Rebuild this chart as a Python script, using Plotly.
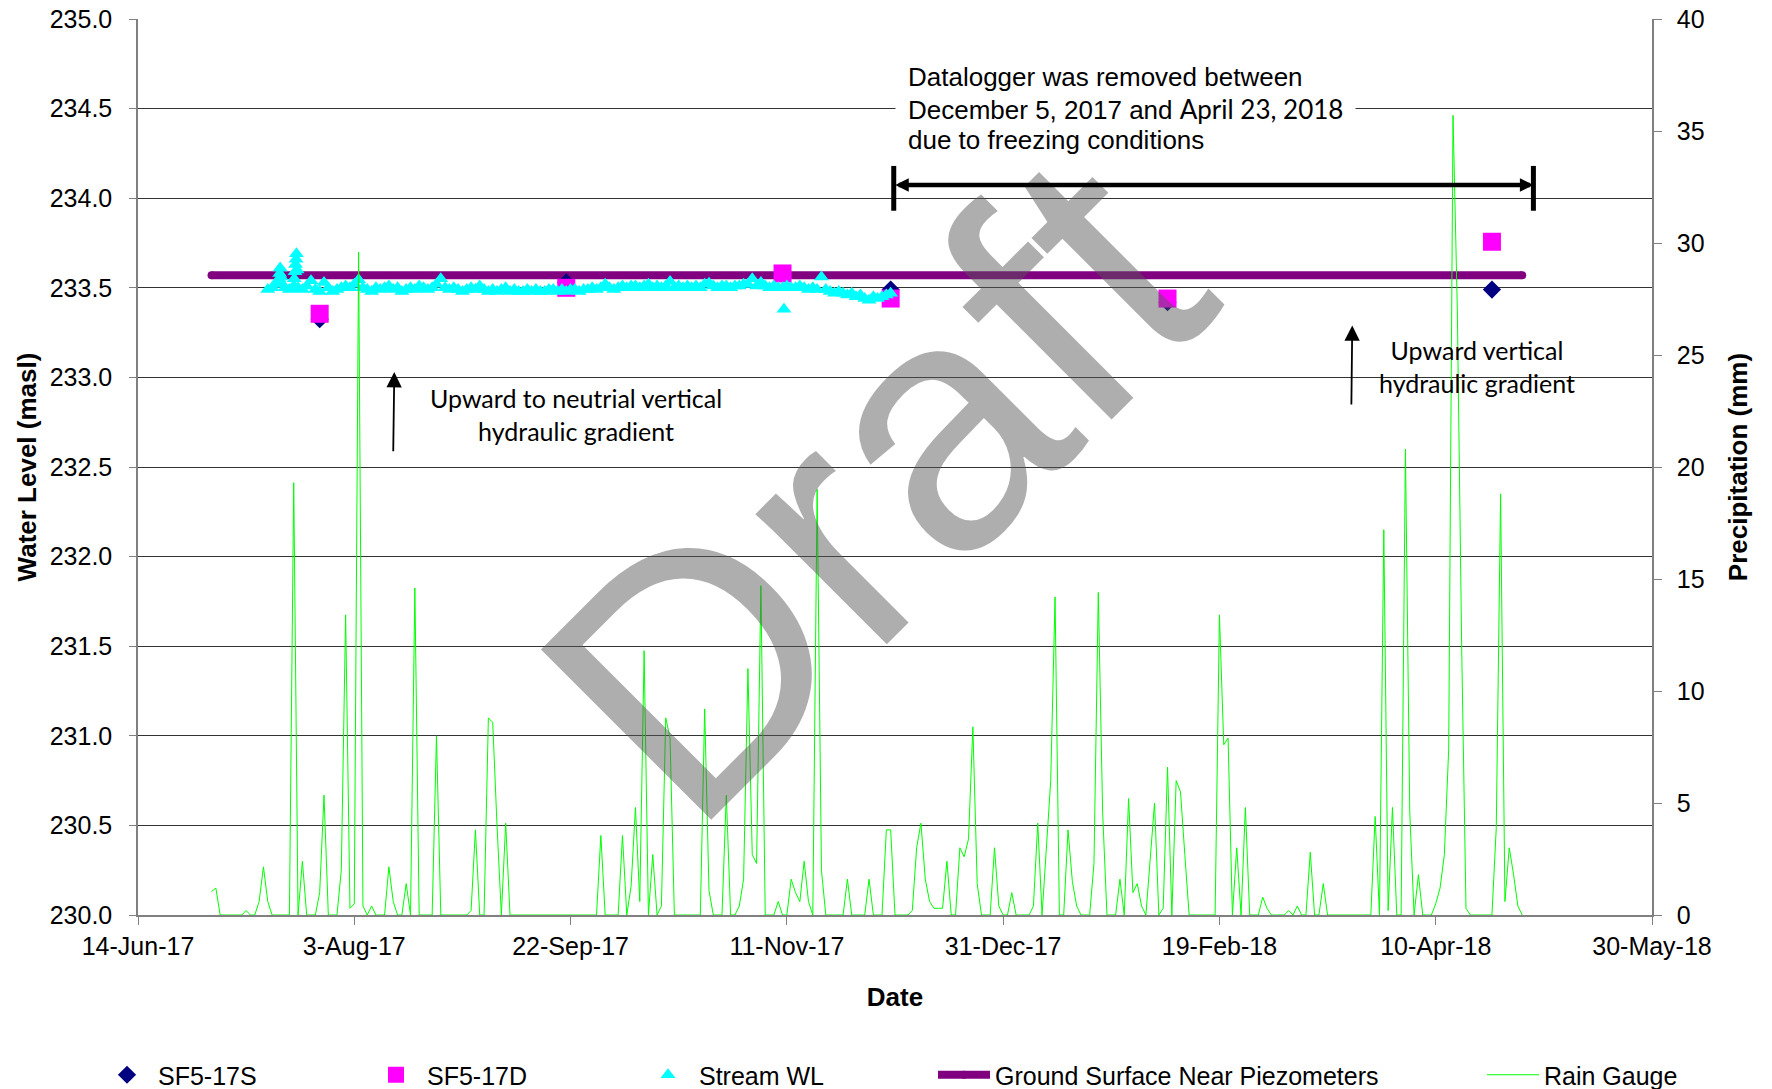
import pandas as pd
import plotly.graph_objects as go

# manual water level readings (masl)
sf5_17s_dates = ['2017-07-26', '2017-09-21', '2017-12-05', '2018-02-07', '2018-04-23']
sf5_17s = [233.325, 233.53, 233.49, 233.42, 233.49]

sf5_17d_dates = ['2017-07-26', '2017-09-21', '2017-11-10', '2017-12-05', '2018-02-07', '2018-04-23']
sf5_17d = [233.355, 233.50, 233.58, 233.44, 233.44, 233.757]

ground_dates = ['2017-07-01', '2018-04-30']
ground_surface = [233.57, 233.57]

# stream datalogger, daily readings from 14-Jul-17 to 5-Dec-17
stream_start = '2017-07-14'
stream_wl = [
    233.49, 233.50, 233.52, 233.52, 233.50, 233.49, 233.51, 233.50, 233.49, 233.51,
    233.54, 233.49, 233.48, 233.53, 233.50, 233.48, 233.49, 233.50, 233.51, 233.50,
    233.52, 233.545, 233.50, 233.49, 233.48, 233.50, 233.49, 233.50, 233.51, 233.49,
    233.50, 233.48, 233.49, 233.50, 233.49, 233.51, 233.50, 233.49, 233.50, 233.52,
    233.55, 233.50, 233.49, 233.50, 233.49, 233.48, 233.49, 233.50, 233.49, 233.51,
    233.49, 233.48, 233.49, 233.48, 233.49, 233.50, 233.48, 233.49, 233.48, 233.48,
    233.49, 233.48, 233.49, 233.48, 233.48, 233.49, 233.49, 233.48, 233.49, 233.48,
    233.49, 233.49, 233.48, 233.49, 233.49, 233.50, 233.49, 233.50, 233.52, 233.50,
    233.49, 233.50, 233.51, 233.50, 233.51, 233.51, 233.50, 233.51, 233.52, 233.50,
    233.51, 233.50, 233.51, 233.535, 233.50, 233.51, 233.50, 233.51, 233.50, 233.51,
    233.50, 233.52, 233.525, 233.51, 233.50, 233.51, 233.51, 233.50, 233.51, 233.51,
    233.52, 233.52, 233.55, 233.51, 233.53, 233.51, 233.50, 233.51, 233.50, 233.50,
    233.51, 233.50, 233.50, 233.51, 233.50, 233.49, 233.50, 233.49, 233.56, 233.49,
    233.48, 233.47, 233.48, 233.47, 233.46, 233.47, 233.45, 233.46, 233.44, 233.43,
    233.45, 233.44, 233.45, 233.46, 233.47,
]
# extra logger readings on the spike days and the low reading in November
stream_extra_times = [
    '2017-07-16 14:00', '2017-07-16 18:00', '2017-07-16 21:00', '2017-07-17 02:00',
    '2017-07-20 03:00', '2017-07-20 07:00', '2017-07-20 10:00', '2017-07-20 13:00',
    '2017-07-20 15:00', '2017-07-20 19:00', '2017-11-10 08:00',
]
stream_extra = [
    233.55, 233.58, 233.61, 233.56,
    233.55, 233.59, 233.63, 233.66,
    233.69, 233.60, 233.38,
]

# daily precipitation (mm) from 1-Jul-17 to 30-Apr-18
rain_start = '2017-07-01'
rain_mm = [
    1.05, 1.2, 0, 0, 0, 0, 0, 0, 0.2, 0,
    0, 0.6, 2.15, 0.6, 0, 0, 0, 0, 0, 19.3,
    0, 2.4, 0, 0, 0, 1.0, 5.35, 0, 0, 0,
    2.0, 13.4, 0.3, 0.5, 29.6, 0.4, 0, 0.4, 0, 0,
    0, 2.15, 0.6, 0, 0, 1.4, 0, 14.6, 0, 0,
    0, 0, 8.0, 0, 0, 0, 0, 0, 0, 0,
    0.2, 3.8, 0, 0, 8.8, 8.6, 4.0, 0, 4.1, 0,
    0, 0, 0, 0, 0, 0, 0, 0, 0, 0,
    0, 0, 0, 0, 0, 0, 0, 0, 0, 0,
    3.55, 0, 0, 0, 0, 3.55, 0, 1.3, 4.8, 0.6,
    11.8, 0, 2.7, 0, 0.4, 8.8, 7.9, 0, 0, 0,
    0, 0, 0, 0, 9.2, 1.1, 0, 0, 0, 5.35,
    0, 0, 0.4, 1.6, 11.0, 2.7, 2.3, 14.7, 0, 0,
    0, 0.6, 0, 0, 1.6, 1.0, 0.6, 2.4, 0.6, 0,
    19.0, 2.0, 0, 0, 0, 0, 0, 1.6, 0, 0,
    0, 0, 1.6, 0, 0, 0, 3.8, 3.8, 0, 0,
    0, 0, 0.2, 3.0, 4.1, 1.6, 0.6, 0.3, 0.3, 0.3,
    2.4, 0, 0, 3.0, 2.6, 3.4, 8.4, 1.4, 0, 0,
    0, 3.0, 0.4, 0, 0, 1.0, 0, 0, 0, 0,
    0.4, 4.1, 0, 3.2, 6.0, 14.2, 0, 0, 3.8, 1.5,
    0.4, 0, 0, 0, 2.3, 14.4, 4.6, 0, 0, 0,
    1.6, 0, 5.2, 1.0, 1.4, 0.4, 0, 2.5, 5.0, 0,
    0.3, 6.6, 0, 6.0, 5.5, 2.7, 0, 0, 0, 0,
    0, 0, 0, 13.4, 7.6, 7.9, 0, 3.0, 0, 4.8,
    0, 0, 0, 0.8, 0.3, 0, 0, 0, 0, 0.2,
    0, 0.4, 0, 0, 2.8, 0, 0, 1.4, 0, 0,
    0, 0, 0, 0, 0, 0, 0, 0, 0, 4.4,
    0, 17.2, 0.2, 4.8, 0, 0, 20.8, 4.6, 0, 1.8,
    0, 0, 0, 0.5, 1.2, 2.7, 7.4, 35.7, 27.0, 12.0,
    0.3, 0, 0, 0, 0, 0, 0, 3.9, 18.8, 0.6,
    3.0, 1.8, 0.4, 0,
]

FONT = 'Liberation Sans, Arial, sans-serif'
CAL = 'Lato, Open Sans, sans-serif'

stream = pd.DataFrame({
    'time': list(pd.date_range(stream_start, periods=len(stream_wl), freq='D')) + list(pd.to_datetime(stream_extra_times)),
    'wl': stream_wl + stream_extra,
}).sort_values('time')
rain_dates = pd.date_range(rain_start, periods=len(rain_mm), freq='D')

fig = go.Figure()

fig.add_trace(go.Scatter(
    x=ground_dates, y=ground_surface, name='Ground Surface Near Piezometers',
    mode='lines+markers', line=dict(color='#800080', width=8),
    marker=dict(color='#800080', size=8), legendrank=4, legendwidth=482,
))
fig.add_trace(go.Scatter(
    x=sf5_17s_dates, y=sf5_17s, name='SF5-17S', mode='markers',
    marker=dict(symbol='diamond', color='#000080', size=14), legendrank=1, legendwidth=202,
))
fig.add_trace(go.Scatter(
    x=sf5_17d_dates, y=sf5_17d, name='SF5-17D', mode='markers',
    marker=dict(symbol='square', color='#FF00FF', size=18), legendrank=2, legendwidth=205,
))
fig.add_trace(go.Scatter(
    x=stream['time'], y=stream['wl'], name='Stream WL', mode='markers',
    marker=dict(symbol='triangle-up', color='#00FFFF', size=13), legendrank=3, legendwidth=229,
))
fig.add_trace(go.Scatter(
    x=rain_dates, y=rain_mm, name='Rain Gauge', mode='lines', yaxis='y2',
    line=dict(color='#00FF00', width=1), legendrank=5, legendwidth=150,
))

# watermark
fig.add_annotation(
    text='Draft', xref='paper', yref='paper', x=0.486, y=0.479, showarrow=False,
    textangle=-45, font=dict(family=FONT, size=350, color='rgba(85,85,85,0.48)'),
)

# note about the removed datalogger, one line per annotation
# (the middle line carries the white box that breaks the gridline, so it goes first)
note_x = (895 - 138) / 1514
note_lines = [
    ('December 5, 2017 and <span style="font-family:Lato">April 23, 2018</span>', 108.5, 'white'),
    ('Datalogger was removed between', 77, None),
    ('due to freezing conditions', 140, None),
]
for txt, py, bg in note_lines:
    fig.add_annotation(
        text=txt, xref='paper', yref='paper', x=note_x, y=(915 - py) / 896,
        xanchor='left', yanchor='middle', align='left', showarrow=False,
        bgcolor=bg, borderpad=12, font=dict(family=FONT, size=26, color='black'),
    )

fig.add_annotation(
    text='Upward to neutrial vertical<br>hydraulic gradient', xref='paper', yref='paper',
    x=(576 - 138) / 1514, y=(915 - 414) / 896, xanchor='center', yanchor='middle',
    showarrow=False, align='center',
    font=dict(family=CAL, size=25, color='black'),
)
fig.add_annotation(
    text='Upward vertical<br>hydraulic gradient', xref='paper', yref='paper',
    x=(1477 - 138) / 1514, y=(915 - 367) / 896, xanchor='center', yanchor='middle',
    showarrow=False, align='center',
    font=dict(family=CAL, size=25, color='black'),
)

# small up arrows
for head, tail, y_head, y_tail in [
    ('2017-08-12 06:00', '2017-08-12 00:00', 233.03, 232.58),
    ('2018-03-21 17:00', '2018-03-21 12:00', 233.29, 232.84),
]:
    fig.add_annotation(
        x=head, y=y_head, ax=tail, ay=y_tail, axref='x', ayref='y', text='',
        showarrow=True, arrowhead=2, arrowwidth=1.8, arrowsize=1.7, arrowcolor='black',
    )

# removal period arrow
gap_start, gap_end, gap_y = '2017-12-05 17:00', '2018-05-02 14:00', 234.074
fig.add_annotation(
    x=gap_end, y=gap_y, ax=gap_start, ay=gap_y, axref='x', ayref='y', text='',
    showarrow=True, arrowside='end+start', arrowhead=2, startarrowhead=2,
    arrowwidth=4.5, arrowsize=0.6, startarrowsize=0.6, arrowcolor='black',
)
for d in [gap_start, gap_end]:
    fig.add_shape(type='line', x0=d, x1=d, y0=233.93, y1=234.18, xref='x', yref='y',
                  line=dict(color='black', width=5))

# page body has an 8px margin, so the figure is 8px smaller than the window
fig.update_layout(
    width=1764, height=1081,
    margin=dict(l=130, r=120, t=11, b=174, autoexpand=False),
    paper_bgcolor='white', plot_bgcolor='white',
    font=dict(family=FONT, size=25, color='black'),
    showlegend=True,
    legend=dict(
        orientation='h', x=(96 - 138) / 1514, y=(915 - 1075) / 896,
        xanchor='left', yanchor='middle', itemwidth=52,
        font=dict(family=FONT, size=25), bgcolor='rgba(0,0,0,0)',
        traceorder='normal',
    ),
    xaxis=dict(
        type='date', range=['2017-06-14', '2018-05-30'],
        tick0='2017-06-14', dtick=50 * 86400000, tickformat='%-d-%b-%y',
        showgrid=False, showline=True, linecolor='#808080', linewidth=1.5,
        ticks='outside', ticklen=8, tickcolor='#808080', ticklabelstandoff=0,
        tickfont=dict(size=25),
        title=dict(text='Date', font=dict(size=26, weight='bold'), standoff=29),
        zeroline=False,
    ),
    yaxis=dict(
        range=[230, 235], dtick=0.5, tickformat='.1f',
        showgrid=True, gridcolor='#333333', gridwidth=1,
        showline=True, linecolor='#808080', linewidth=1.5,
        ticks='outside', ticklen=7, tickcolor='#808080', ticklabelstandoff=12,
        ticklabeloverflow='allow', tickfont=dict(size=25),
        title=dict(text='Water Level (masl)', font=dict(size=26, weight='bold'), standoff=6),
        zeroline=False,
    ),
    yaxis2=dict(
        overlaying='y', side='right', range=[0, 40], dtick=5,
        showgrid=False, showline=True, linecolor='#808080', linewidth=1.5,
        ticks='outside', ticklen=8, tickcolor='#808080', ticklabelstandoff=10,
        ticklabeloverflow='allow', tickfont=dict(size=25),
        title=dict(text='Precipitation (mm)', font=dict(size=26, weight='bold'), standoff=25),
        zeroline=False,
    ),
)

fig.write_html('out.html')
